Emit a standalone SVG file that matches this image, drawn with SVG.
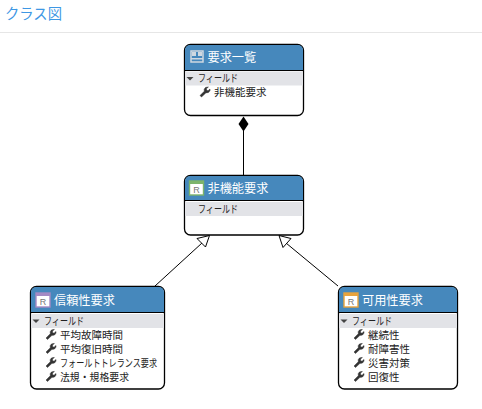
<svg xmlns="http://www.w3.org/2000/svg" width="482" height="409" viewBox="0 0 482 409">
<style>
text{font-family:"Noto Sans CJK JP","Noto Sans",sans-serif}
.box{fill:#fff;stroke:#000;stroke-width:1.3}
.head{fill:#4688bc}
.sep{stroke:#000;stroke-width:1.2}
.band{fill:#e2e3e7}
.t{font-size:12.200px;fill:#fff}
.f{font-size:10.500px;fill:#222}
.c{stroke:#000;stroke-width:1;fill:none}
.tri{fill:#fff;stroke:#000;stroke-width:1}
.w{fill:#333;stroke:#333;stroke-width:.5}
.arr{fill:#444}
.r{font-family:"Liberation Sans",sans-serif;font-size:9px;fill:#777;stroke:none;text-anchor:middle}
</style>
<defs>
<path id="wr" class="w" d="M0 8.500L1.500 10L6 5.800Q9 6.300 10 3.600L10 2L8 3.800L6.500 3L6.500 1.600L8.400 0Q5 -.4 4.200 2.200L4.300 4.300Z"/>
<path id="ar" class="arr" d="M0 0H7L3.500 3.500Z"/>
<g id="ri"><rect x="0" y="0" width="14" height="14" fill="#fff" stroke-width="1.400"/><text class="r" x="7" y="11.500">R</text></g>
</defs>
<rect width="482" height="409" fill="#fff"/>
<text x="5" y="18.500" font-size="15" fill="#3d97e4" textLength="57" lengthAdjust="spacingAndGlyphs">クラス図</text>
<rect x="0" y="32" width="482" height="1" fill="#e6e6e6"/>
<g id="connectors">
<path class="c" d="M243.500 130V175"/>
<path d="M243.500 116.500L248.500 124L243.500 131.500L238.500 124Z" fill="#000"/>
<path class="c" d="M155 286L202 243"/>
<path class="tri" d="M209.500 235.500L205.500 247L197 238.500Z"/>
<path class="c" d="M338 286L286 243"/>
<path class="tri" d="M279 235.500L291 238.500L283 247.500Z"/>
</g>
<g id="node-list">
<rect class="box" x="184.500" y="44.500" width="119" height="71" rx="6"/>
<path class="head" d="M185 70V50.500Q185 45 190.500 45H297.500Q303 45 303 50.500V70Z"/>
<path class="sep" d="M185 70.500H303"/>
<rect class="band" x="185" y="71.500" width="118" height="14"/>
<rect x="191" y="51" width="12" height="11" fill="none" stroke="#cfd8e0" stroke-width="1.500"/>
<rect x="192" y="52" width="4" height="4" fill="#cfd8e0"/><rect x="198" y="52" width="4" height="4" fill="#cfd8e0"/>
<rect x="191" y="58" width="12" height="1.500" fill="#cfd8e0"/>
<text class="t" x="207.500" y="62">要求一覧</text>
<use href="#ar" x="186.500" y="77"/>
<text class="f" x="198" y="82" textLength="40" lengthAdjust="spacingAndGlyphs">フィールド</text>
<use href="#wr" x="200" y="87"/>
<text class="f" x="214" y="96">非機能要求</text>
</g>
<g id="node-nonfunc">
<rect class="box" x="184.500" y="175.500" width="119" height="59.500" rx="6"/>
<path class="head" d="M185 200V181.500Q185 176 190.500 176H297.500Q303 176 303 181.500V200Z"/>
<path class="sep" d="M185 200.500H303"/>
<rect class="band" x="185" y="202" width="118" height="14"/>
<use href="#ri" x="189.500" y="181" stroke="#7cb46a"/>
<rect x="189.500" y="181" width="14" height="3" fill="#7cb46a"/>
<text class="t" x="207.500" y="193">非機能要求</text>
<text class="f" x="198" y="213" textLength="40" lengthAdjust="spacingAndGlyphs">フィールド</text>
</g>
<g id="node-reliability">
<rect class="box" x="30.500" y="286.500" width="134" height="102.500" rx="6"/>
<path class="head" d="M31 312V292.500Q31 287 36.500 287H158.500Q164 287 164 292.500V312Z"/>
<path class="sep" d="M31 312.500H164"/>
<rect class="band" x="31" y="314" width="133" height="14"/>
<use href="#ri" x="36" y="293" stroke="#a48ac4"/>
<rect x="36" y="293" width="14" height="3" fill="#a48ac4"/>
<text class="t" x="54" y="305">信頼性要求</text>
<use href="#ar" x="32.500" y="319.500"/>
<text class="f" x="44" y="325" textLength="40" lengthAdjust="spacingAndGlyphs">フィールド</text>
<use href="#wr" x="46" y="329.500"/>
<text class="f" x="60" y="338.500">平均故障時間</text>
<use href="#wr" x="46" y="343.500"/>
<text class="f" x="60" y="352.500">平均復旧時間</text>
<use href="#wr" x="46" y="357.500"/>
<text class="f" x="60" y="366.500" textLength="97" lengthAdjust="spacingAndGlyphs">フォールトトレランス要求</text>
<use href="#wr" x="46" y="371.500"/>
<text class="f" x="60" y="380.500" textLength="69" lengthAdjust="spacingAndGlyphs">法規・規格要求</text>
</g>
<g id="node-availability">
<rect class="box" x="338.500" y="286.500" width="119" height="102.500" rx="6"/>
<path class="head" d="M339 312V292.500Q339 287 344.500 287H451.500Q457 287 457 292.500V312Z"/>
<path class="sep" d="M339 312.500H457"/>
<rect class="band" x="339" y="314" width="118" height="14"/>
<use href="#ri" x="344" y="293" stroke="#e8a33c"/>
<rect x="344" y="293" width="14" height="3" fill="#e8a33c"/>
<text class="t" x="362" y="305">可用性要求</text>
<use href="#ar" x="340.500" y="319.500"/>
<text class="f" x="352" y="325" textLength="40" lengthAdjust="spacingAndGlyphs">フィールド</text>
<use href="#wr" x="354" y="329.500"/>
<text class="f" x="368" y="338.500">継続性</text>
<use href="#wr" x="354" y="343.500"/>
<text class="f" x="368" y="352.500">耐障害性</text>
<use href="#wr" x="354" y="357.500"/>
<text class="f" x="368" y="366.500">災害対策</text>
<use href="#wr" x="354" y="371.500"/>
<text class="f" x="368" y="380.500">回復性</text>
</g>
</svg>
